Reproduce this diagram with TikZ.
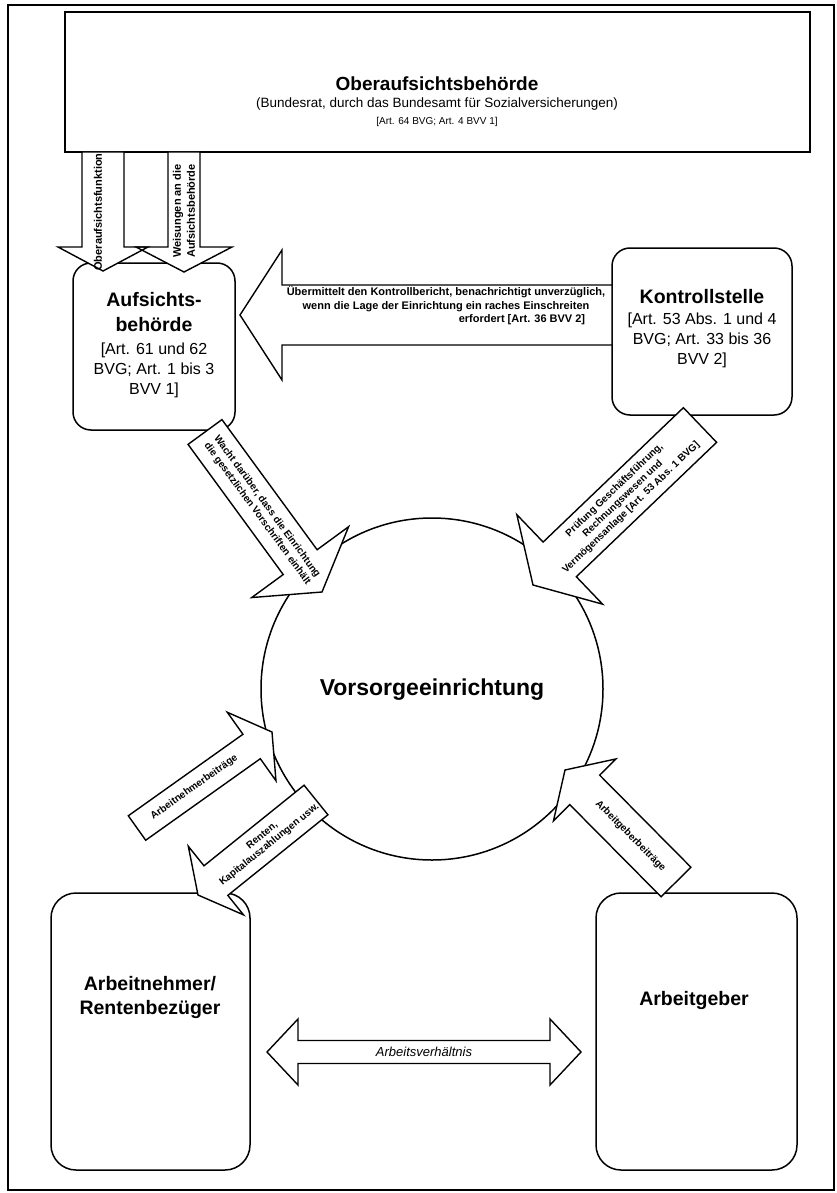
\documentclass[tikz,border=0pt]{standalone}
\usepackage{fontspec}
\setmainfont{Liberation Sans}
\usetikzlibrary{calc}
\newcommand\myfb[2]{\fontsize{#1}{#2}\selectfont\bfseries}
\newcommand\myrm[2]{\fontsize{#1}{#2}\selectfont}
% block arrow: [style] {tail} {tip} {half shaft} {half head} {head length}
\newcommand\blockarrow[6][]{%
  \coordinate (ba-M) at ($(#3)!#6!(#2)$);
  \path[#1] ($(#2)!#4!90:(#3)$) -- ($(ba-M)!#4!90:(#3)$) -- ($(ba-M)!#5!90:(#3)$) -- (#3)
    -- ($(ba-M)!#5!-90:(#3)$) -- ($(ba-M)!#4!-90:(#3)$) -- ($(#2)!#4!-90:(#3)$) -- cycle;}
\begin{document}
\begin{tikzpicture}[x=1pt,y=-1pt,
  lw/.style={line width=1.5pt},
  boxr/.style={draw, line width=1.5pt, rounded corners=#1, inner sep=0pt},
  boxr/.default=18pt,
  arr/.style={draw, fill=white, line width=1.4pt, line join=miter},
  arrfill/.style={fill=white},
  arrline/.style={draw, line width=1.4pt, line join=miter},
  lbl/.style={font=\myfb{10}{12}, align=center, inner sep=0pt},
  slbl/.style={font=\myfb{10}{11.5}, align=center, inner sep=0pt}]
\useasboundingbox (0,0) rectangle (836,1193);
\draw[line width=1.3pt] (8,5) rectangle (834,1190);

% top box
\node[draw, lw, minimum width=745pt, minimum height=140pt, inner sep=0pt] (ober) at (437.5,82) {};
\node[font=\myfb{19}{22}] (ober-t1) at (437,84) {Oberaufsichtsbehörde};
\node[font=\myrm{13.5}{16}] (ober-t2) at (437,104) {(Bundesrat, durch das Bundesamt für Sozialversicherungen)};
\node[font=\myrm{10}{12}] (ober-t3) at (437,122) {[Art. 64 BVG; Art. 4 BVV 1]};

% boxes
\node[boxr, minimum width=162pt, minimum height=167pt] (auf) at (154,346.5) {};
\node[boxr, minimum width=180pt, minimum height=167pt] (kon) at (702,331.5) {};
\node[draw, lw, circle, minimum size=342pt, inner sep=0pt] (vor) at (432,689) {};
\node[boxr=25pt, minimum width=199pt, minimum height=277pt] (anb) at (150.5,1031.5) {};
\node[boxr=25pt, minimum width=201pt, minimum height=277pt] (agb) at (696.5,1031.5) {};

% box texts
\node[font=\myfb{19.5}{25}, align=center] (auf-t) at (154,312.5) {Aufsichts-\\behörde};
\node[font=\myrm{16}{20}, align=center] (auf-r) at (154,370) {[Art. 61 und 62\\BVG; Art. 1 bis 3\\BVV 1]};
\node[font=\myfb{19.5}{23}] (kon-t) at (702,297) {Kontrollstelle};
\node[font=\myrm{16}{20}, align=center] (kon-r) at (702,340) {[Art. 53 Abs. 1 und 4\\BVG; Art. 33 bis 36\\BVV 2]};
\node[font=\myfb{23}{26}] (vor-t) at (432,690) {Vorsorgeeinrichtung};
\node[font=\myfb{19.5}{24}, align=center] (anb-t) at (150,997) {Arbeitnehmer/\\Rentenbezüger};
\node[font=\myfb{19.5}{23}] (agb-t) at (694,1000) {Arbeitgeber};

% down arrows from top box
\coordinate (a1s) at (103,152); \coordinate (a1t) at (103,271);
\coordinate (a2s) at (184,152); \coordinate (a2t) at (184,272);
\blockarrow[arrfill]{a1s}{a1t}{21pt}{45pt}{24pt}
\blockarrow[arrfill]{a2s}{a2t}{16pt}{48pt}{25pt}
\blockarrow[arrline]{a1s}{a1t}{21pt}{45pt}{24pt}
\blockarrow[arrline]{a2s}{a2t}{16pt}{48pt}{25pt}
\node[font=\myfb{11}{12}, rotate=90, inner sep=0pt] (a1l) at (98,212) {Oberaufsichtsfunktion};
\node[font=\myfb{11}{14}, rotate=90, align=center, inner sep=0pt] (a2l) at (184,211) {Weisungen an die\\Aufsichtsbehörde};

% Kontrollstelle -> Aufsichtsbehoerde
\coordinate (ks) at (612,315); \coordinate (kt) at (240,315);
\blockarrow[arr]{ks}{kt}{30pt}{65pt}{42pt}
\node[lbl, font=\myfb{11}{14}] (kl1) at (446,299) {Übermittelt den Kontrollbericht, benachrichtigt unverzüglich,\\wenn die Lage der Einrichtung ein raches Einschreiten};
\node[lbl, font=\myfb{11}{14}] (kl2) at (522,320) {erfordert [Art. 36 BVV 2]};

% Aufsichtsbehoerde -> Vorsorgeeinrichtung
\coordinate (ws) at (205,432); \coordinate (wt) at (322,592);
\blockarrow[arr]{ws}{wt}{21pt}{60pt}{37pt}
\path (ws) -- (ba-M) node[lbl, sloped, pos=0.6] (wl) {Wacht darüber, dass die Einrichtung\\die gesetzlichen Vorschriften einhält};

% Kontrollstelle -> Vorsorgeeinrichtung
\coordinate (ps) at (700,425); \coordinate (pt) at (533,585);
\blockarrow[arr]{ps}{pt}{24pt}{62pt}{37pt}
\path (ps) -- (ba-M) node[lbl, sloped, pos=0.55] (pl) {Prüfung Geschäftsführung,\\Rechnungswesen und\\Vermögensanlage [Art. 53 Abs. 1 BVG]};

% Arbeitnehmerbeitraege
\coordinate (ns) at (137,828); \coordinate (nt) at (272,732);
\blockarrow[arr]{ns}{nt}{15pt}{42pt}{25pt}
\path (ns) -- (ba-M) node[slbl, sloped, pos=0.5] (nl) {Arbeitnehmerbeiträge};

% Renten
\coordinate (rs) at (316,800); \coordinate (rt) at (198,895);
\blockarrow[arr]{rs}{rt}{19pt}{44pt}{23pt}
\path (rs) -- (ba-M) node[slbl, sloped, pos=0.5] (rl) {Renten,\\Kapitalauszahlungen usw.};

% Arbeitgeberbeitraege
\coordinate (gs) at (676,882); \coordinate (gt) at (565,770);
\blockarrow[arr]{gs}{gt}{21pt}{44pt}{28pt}
\path (gs) -- (ba-M) node[slbl, sloped, pos=0.5] (gl) {Arbeitgeberbeiträge};

% Arbeitsverhaeltnis double arrow
\coordinate (dl) at (267,1052); \coordinate (dr) at (581,1052);
\draw[arr] (dl) -- ($(dl)+(31,-33)$) -- ($(dl)+(31,-11.5)$) -- ($(dr)+(-31,-11.5)$) -- ($(dr)+(-31,-33)$)
  -- (dr) -- ($(dr)+(-31,33)$) -- ($(dr)+(-31,11.5)$) -- ($(dl)+(31,11.5)$) -- ($(dl)+(31,33)$) -- cycle;
\node[font=\fontsize{13}{14}\selectfont\itshape, inner sep=0pt] (dlbl) at (424,1052) {Arbeitsverhältnis};
\end{tikzpicture}
\end{document}
